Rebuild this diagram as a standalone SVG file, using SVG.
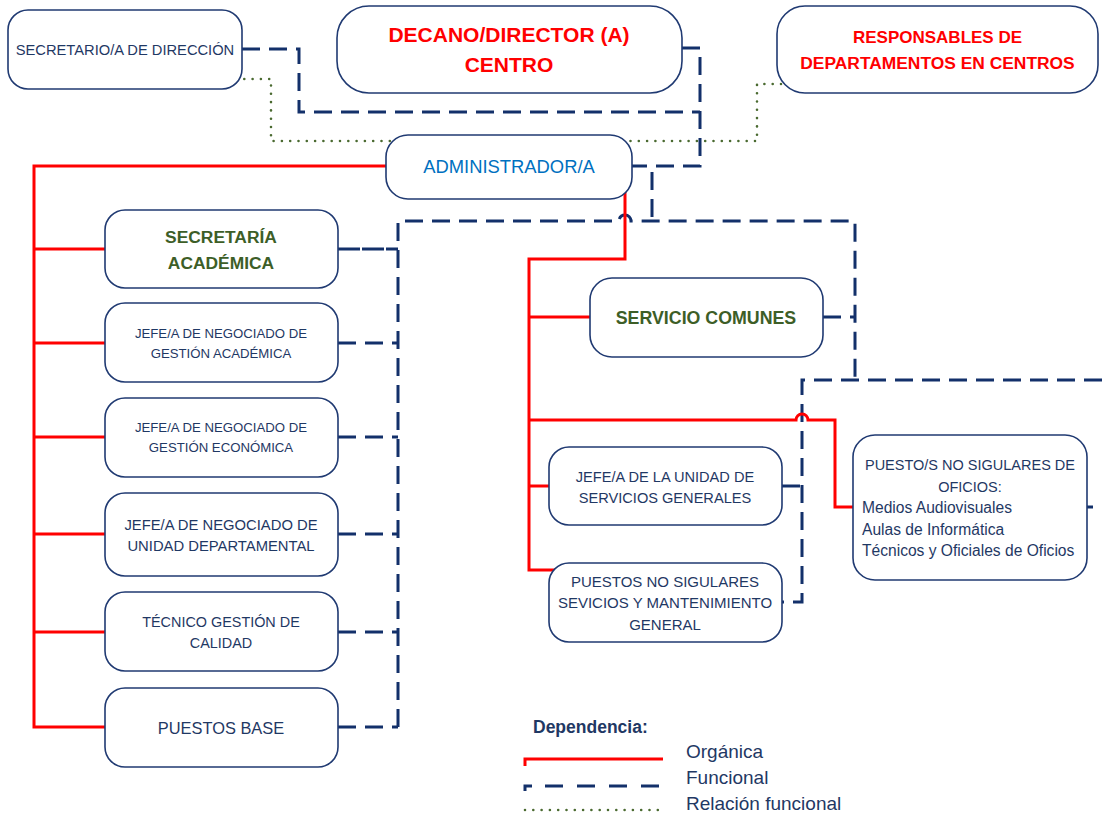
<svg xmlns="http://www.w3.org/2000/svg" width="1102" height="816" viewBox="0 0 1102 816">
  <style>
    .box { fill: #ffffff; stroke: #203a72; stroke-width: 1.6; }
    .t { font-family: "Liberation Sans", Arial, sans-serif; fill: #1f3864; text-anchor: middle; }
    .tl { font-family: "Liberation Sans", Arial, sans-serif; fill: #1f3864; text-anchor: start; }
    .red { font-weight: bold; fill: #ff0000; }
    .grn { font-weight: bold; fill: #3d5e27; }
    .org { fill: none; stroke: #ff0000; stroke-width: 3; }
    .fun { fill: none; stroke: #13306a; stroke-width: 3; stroke-dasharray: 18 9; }
    .funs { fill: none; stroke: #13306a; stroke-width: 3; }
    .rel { fill: none; stroke: #4a6a30; stroke-width: 2.6; stroke-dasharray: 0 8.3; stroke-linecap: round; }
  </style>

  <!-- connectors -->
  <g id="connectors">
    <!-- relación funcional (dotted) -->
    <path class="rel" d="M236,79 H271 V141 H757 V84 H786"/>

    <!-- funcional (dashed) -->
    <path class="fun" d="M242,49 H299 V112 H700"/>
    <path class="fun" d="M682,48 H700 V166 H632"/>
    <path class="fun" d="M652,172 V221"/>
    <path class="fun" d="M398,727 V221 H619 A6,6 0 0 1 631,221 H855 V380"/>
    <path class="fun" style="stroke-dasharray: 22 2" d="M338,249 H398"/>
    <path class="fun" d="M338,343 H398"/>
    <path class="fun" d="M338,437 H398"/>
    <path class="fun" d="M338,534 H398"/>
    <path class="fun" d="M338,632 H398"/>
    <path class="fun" d="M338,727 H398"/>
    <path class="fun" d="M823,317 H855"/>
    <path class="fun" d="M1102,380 H802 V602 H782"/>
    <path class="fun" d="M782,486 H802"/>
    <path class="funs" d="M1087,507 H1093"/>

    <!-- orgánica (solid red) -->
    <path class="org" d="M386,166 H34 V727 H105"/>
    <path class="org" d="M34,249 H105"/>
    <path class="org" d="M34,343 H105"/>
    <path class="org" d="M34,437 H105"/>
    <path class="org" d="M34,534 H105"/>
    <path class="org" d="M34,632 H105"/>
    <path class="org" d="M625,192 V259 H529 V570 H557"/>
    <path class="org" d="M529,317 H590"/>
    <path class="org" d="M529,486 H549"/>
    <path class="org" d="M529,420 H796 A6,6 0 0 1 808,420 H835 V507 H853"/>
  </g>

  <!-- nodes -->
  <g id="secretario-direccion">
    <rect class="box" x="8" y="10" width="234" height="79" rx="20"/>
    <text class="t" x="125" y="55" font-size="14.7">SECRETARIO/A DE DIRECCIÓN</text>
  </g>

  <g id="decano">
    <rect class="box" x="337" y="6" width="345" height="87" rx="32"/>
    <text class="t red" x="509" y="42" font-size="21">DECANO/DIRECTOR (A)</text>
    <text class="t red" x="509" y="72" font-size="21">CENTRO</text>
  </g>

  <g id="responsables">
    <rect class="box" x="777" y="6" width="321" height="87" rx="28"/>
    <text class="t red" x="937.5" y="43" font-size="17">RESPONSABLES DE</text>
    <text class="t red" x="937.5" y="69" font-size="17.4">DEPARTAMENTOS EN CENTROS</text>
  </g>

  <g id="administrador">
    <rect class="box" x="386" y="135" width="246" height="64" rx="22"/>
    <text class="t" x="509" y="173" font-size="18.4" style="fill:#0070c0">ADMINISTRADOR/A</text>
  </g>

  <g id="secretaria-academica">
    <rect class="box" x="105" y="210" width="233" height="78" rx="20"/>
    <text class="t grn" x="221" y="243" font-size="17.4">SECRETARÍA</text>
    <text class="t grn" x="221" y="269" font-size="17.4">ACADÉMICA</text>
  </g>

  <g id="negociado-academica">
    <rect class="box" x="105" y="303" width="233" height="79" rx="20"/>
    <text class="t" x="221" y="338" font-size="13.2">JEFE/A DE NEGOCIADO DE</text>
    <text class="t" x="221" y="358" font-size="13.2">GESTIÓN ACADÉMICA</text>
  </g>

  <g id="negociado-economica">
    <rect class="box" x="105" y="398" width="233" height="79" rx="20"/>
    <text class="t" x="221" y="432" font-size="13.2">JEFE/A DE NEGOCIADO DE</text>
    <text class="t" x="221" y="452" font-size="13.2">GESTIÓN ECONÓMICA</text>
  </g>

  <g id="negociado-departamental">
    <rect class="box" x="105" y="493" width="233" height="83" rx="20"/>
    <text class="t" x="221" y="530" font-size="14.8">JEFE/A DE NEGOCIADO DE</text>
    <text class="t" x="221" y="551" font-size="14.8">UNIDAD DEPARTAMENTAL</text>
  </g>

  <g id="tecnico-calidad">
    <rect class="box" x="105" y="592" width="233" height="79" rx="20"/>
    <text class="t" x="221" y="627" font-size="14.4">TÉCNICO GESTIÓN DE</text>
    <text class="t" x="221" y="648" font-size="14.4">CALIDAD</text>
  </g>

  <g id="puestos-base">
    <rect class="box" x="105" y="688" width="233" height="79" rx="20"/>
    <text class="t" x="221" y="734" font-size="16.4">PUESTOS BASE</text>
  </g>

  <g id="servicio-comunes">
    <rect class="box" x="590" y="278" width="233" height="79" rx="22"/>
    <text class="t grn" x="706" y="324" font-size="17.8">SERVICIO COMUNES</text>
  </g>

  <g id="jefe-servicios-generales">
    <rect class="box" x="549" y="447" width="233" height="78" rx="20"/>
    <text class="t" x="665" y="482" font-size="14.6">JEFE/A DE LA UNIDAD DE</text>
    <text class="t" x="665" y="503" font-size="14.6">SERVICIOS GENERALES</text>
  </g>

  <g id="puestos-mantenimiento">
    <rect class="box" x="549" y="563" width="233" height="79" rx="20"/>
    <text class="t" x="665" y="587" font-size="15">PUESTOS NO SIGULARES</text>
    <text class="t" x="665" y="608" font-size="15">SEVICIOS Y MANTENIMIENTO</text>
    <text class="t" x="665" y="630" font-size="15">GENERAL</text>
  </g>

  <g id="puestos-oficios">
    <rect class="box" x="853" y="435" width="234" height="145" rx="22"/>
    <text class="t" x="970" y="470" font-size="14.5">PUESTO/S NO SIGULARES DE</text>
    <text class="t" x="970" y="492" font-size="14.5">OFICIOS:</text>
    <text class="tl" x="862" y="513" font-size="15.6">Medios Audiovisuales</text>
    <text class="tl" x="862" y="535" font-size="15.6">Aulas de Informática</text>
    <text class="tl" x="862" y="556" font-size="15.6">Técnicos y Oficiales de Oficios</text>
  </g>

  <!-- legend -->
  <g id="legend">
    <text class="tl" x="533" y="733" font-size="17.5" font-weight="bold">Dependencia:</text>
    <path class="org" d="M525,766 V759 H663"/>
    <path class="funs" d="M525,791 V786 H532"/>
    <path class="fun" d="M545,786 H663" style="stroke-dasharray: 18 14"/>
    <path class="rel" d="M525,810 H663"/>
    <text class="tl" x="686" y="758" font-size="19">Orgánica</text>
    <text class="tl" x="686" y="784" font-size="19">Funcional</text>
    <text class="tl" x="686" y="810" font-size="19">Relación funcional</text>
  </g>
</svg>
